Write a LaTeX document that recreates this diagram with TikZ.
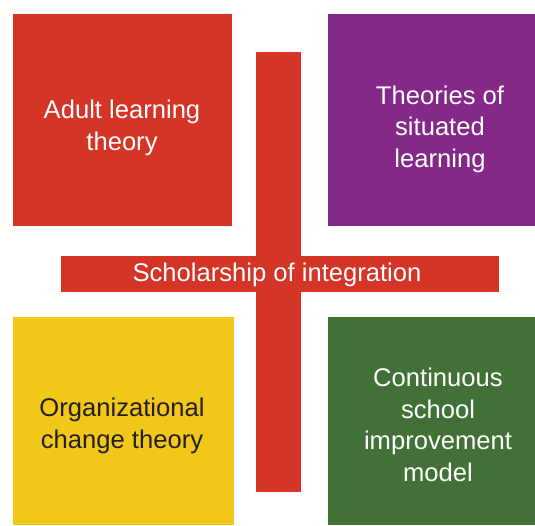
\documentclass[tikz,border=0pt]{standalone}
\usepackage{fontspec}
\setmainfont{Liberation Sans}
\usepackage{tikz}
\usetikzlibrary{positioning}
\definecolor{crossred}{HTML}{D43527}
\definecolor{sitpurple}{HTML}{842987}
\definecolor{orgyellow}{HTML}{F3C717}
\definecolor{schgreen}{HTML}{427138}
\definecolor{darktext}{HTML}{231F20}

\tikzset{
  box/.style={rectangle, inner sep=0, anchor=north west},
  txt/.style={align=center, inner sep=0, text=white, font=\fontsize{25.6}{31.5}\selectfont},
}

\begin{document}
\begin{tikzpicture}[x=1pt, y=-1pt]
  \useasboundingbox (0,0) rectangle (535,525);
  % Boxes
  \draw (13,14)   node(adult)  [box, fill=crossred,  minimum width=219, minimum height=212] {};
  \draw (328,14)  node(situ)   [box, fill=sitpurple, minimum width=207, minimum height=212] {};
  \draw (13,317)  node(orgch)  [box, fill=orgyellow, minimum width=221, minimum height=208] {};
  \draw (328,317) node(school) [box, fill=schgreen,  minimum width=207, minimum height=208] {};

  % Cross
  \draw (256,52) node(vbar) [box, fill=crossred, minimum width=45,  minimum height=440] {};
  \draw (61,256) node(hbar) [box, fill=crossred, minimum width=438, minimum height=36] {};

  % Labels
  \draw (122,128) node(adultT)  [txt] {Adult learning\\theory};
  \draw (440,129) node(situT)   [txt] {Theories of\\situated\\learning};
  \draw (122,426) node(orgchT)  [txt, text=darktext] {Organizational\\change theory};
  \draw (438,425) node(schoolT) [txt] {Continuous\\school\\improvement\\model};
  \draw (277,275) node(hbarT)   [txt] {Scholarship of integration};
\end{tikzpicture}
\end{document}
